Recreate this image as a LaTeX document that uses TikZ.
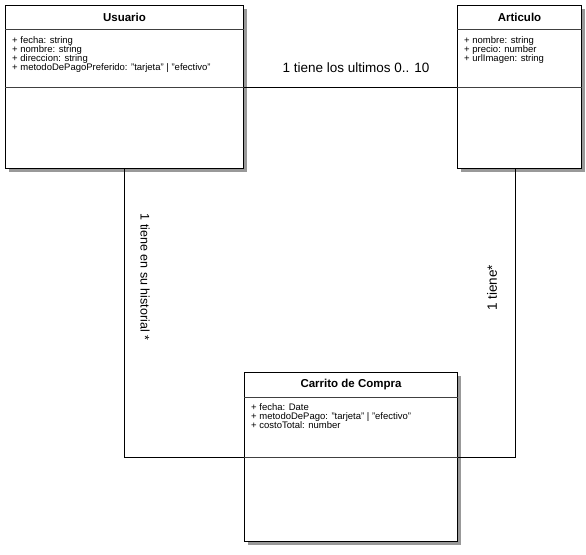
\documentclass[tikz,border=0pt]{standalone}
\usepackage{fontspec}
\setmainfont{Liberation Sans}
\usetikzlibrary{shadows}
\begin{document}
\begin{tikzpicture}[x=1pt,y=1pt,
  cls/.style={draw=black, line width=1pt, fill=white, inner sep=0pt, anchor=north west,
    drop shadow={shadow xshift=3pt, shadow yshift=-3pt, fill=black, opacity=0.4}},
  sepline/.style={draw=black!75, line width=0.8pt},
  title/.style={font=\fontsize{11.5}{13}\selectfont\bfseries, inner sep=0pt},
  attr/.style={font=\fontsize{9.5}{9.1}\selectfont, align=left, anchor=north west, inner sep=0pt},
  conn/.style={draw=black, line width=0.8pt},
  lbl/.style={font=\fontsize{13.5}{15}\selectfont, inner sep=1pt}]
\useasboundingbox (0,0) rectangle (586,-554);
% classes
\node[cls, minimum width=238pt, minimum height=163pt] (u) at (5,-5) {};
\node[cls, minimum width=124pt, minimum height=163pt] (a) at (457,-5) {};
\node[cls, minimum width=213pt, minimum height=169pt] (c) at (244,-372) {};
% connectors
\draw[conn] ([yshift=-82pt]u.north east) -- ([yshift=-82pt]a.north west);
\draw[conn] (u.south) |- ([yshift=-85pt]c.north west);
\draw[conn] ([xshift=-4pt]a.south) |- ([yshift=-85pt]c.north east);
% compartments
\draw[sepline] ([yshift=-24pt]u.north west) -- ([yshift=-24pt]u.north east);
\draw[sepline] ([yshift=-82pt]u.north west) -- ([yshift=-82pt]u.north east);
\draw[sepline] ([yshift=-24pt]a.north west) -- ([yshift=-24pt]a.north east);
\draw[sepline] ([yshift=-82pt]a.north west) -- ([yshift=-82pt]a.north east);
\draw[sepline] ([yshift=-25pt]c.north west) -- ([yshift=-25pt]c.north east);
\draw[sepline] ([yshift=-85pt]c.north west) -- ([yshift=-85pt]c.north east);
% titles
\node[title] (ut) at ([yshift=-12pt]u.north) {Usuario};
\node[title] (at) at ([yshift=-12pt]a.north) {Articulo};
\node[title] (ct) at ([yshift=-12.5pt]c.north) {Carrito de Compra};
% attributes
\node[attr] (ua) at ([xshift=7pt,yshift=-31.5pt]u.north west) {+ fecha: string\\+ nombre: string\\+ direccion: string\\+ metodoDePagoPreferido: "tarjeta" | "efectivo"};
\node[attr] (aa) at ([xshift=7pt,yshift=-31.5pt]a.north west) {+ nombre: string\\+ precio: number\\+ urlImagen: string};
\node[attr] (ca) at ([xshift=7pt,yshift=-31.5pt]c.north west) {+ fecha: Date\\+ metodoDePago: "tarjeta" | "efectivo"\\+ costoTotal: number};
% labels
\node[lbl] (l1) at (356,-68) {1 tiene los ultimos 0.. 10};
\node[lbl, font=\fontsize{12.5}{15}\selectfont, rotate=-90] (l2) at (145,-277) {1 tiene en su historial *};
\node[lbl, rotate=90] (l3) at (492,-288) {1 tiene*};
\end{tikzpicture}
\end{document}
